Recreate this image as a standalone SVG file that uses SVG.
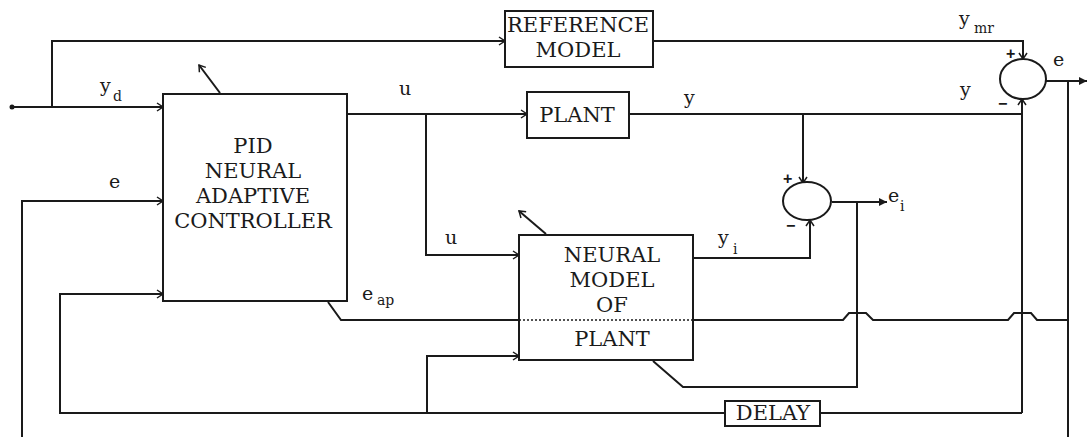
<svg xmlns="http://www.w3.org/2000/svg" width="1087" height="437" viewBox="0 0 1087 437">
<style>
.ln{fill:none;stroke:#1a1a1a;stroke-width:2}
.bx{fill:#fff;stroke:#1a1a1a;stroke-width:2}
.t{font-family:"DejaVu Serif","Liberation Serif",serif;font-size:21px;fill:#1a1a1a;text-anchor:middle}
.l{font-family:"DejaVu Serif","Liberation Serif",serif;font-size:19px;fill:#1a1a1a}
.s{font-family:"DejaVu Serif","Liberation Serif",serif;font-size:14px;fill:#1a1a1a}
.pm{font-family:"Liberation Sans",Arial,sans-serif;font-size:16px;fill:#1a1a1a;font-weight:bold}
</style>
<defs>
<marker id="oa" markerWidth="10" markerHeight="10" refX="8" refY="5" orient="auto" markerUnits="userSpaceOnUse">
<path d="M2,1 L8,5 L2,9" fill="none" stroke="#1a1a1a" stroke-width="1.5"/>
</marker>
<marker id="fa" markerWidth="10" markerHeight="10" refX="9" refY="5" orient="auto" markerUnits="userSpaceOnUse">
<path d="M1,1 L9,5 L1,9 Z" fill="#1a1a1a"/>
</marker>
</defs>
<g id="connectors">
<circle cx="12" cy="107" r="2.5" fill="#1a1a1a"/>
<path class="ln" d="M12,107 H163" marker-end="url(#oa)"/>
<path class="ln" d="M52,107 V41 H505" marker-end="url(#oa)"/>
<path class="ln" d="M653,41 H1023 V59" marker-end="url(#oa)"/>
<path class="ln" d="M1046,81 H1087" marker-end="url(#fa)"/>
<path class="ln" d="M1068,81 V437"/>
<path class="ln" d="M347,114 H527" marker-end="url(#oa)"/>
<path class="ln" d="M426,114 V255 H519" marker-end="url(#oa)"/>
<path class="ln" d="M629,114 H1022"/>
<path class="ln" d="M803,114 V183" marker-end="url(#oa)"/>
<path class="ln" d="M832,202 H887" marker-end="url(#fa)"/>
<path class="ln" d="M693,258 H810 V220" marker-end="url(#oa)"/>
<path class="ln" d="M653,361 L683,387 H857 V202"/>
<path class="ln" d="M22,437 V201 H163" marker-end="url(#oa)"/>
<path class="ln" d="M328,302 L341,320 H519"/>
<path class="ln" d="M693,320 H843 L849,313 H866 L873,320 H1008 L1014,313 H1031 L1037,320 H1068"/>
<path class="ln" d="M1022,413 V99" marker-end="url(#oa)"/>
<path class="ln" d="M820,413 H1022"/>
<path class="ln" d="M725,413 H60 V294 H163" marker-end="url(#oa)"/>
<path class="ln" d="M427,413 V356 H519" marker-end="url(#oa)"/>
<path class="ln" d="M220,93 L199,65" stroke-width="1.5" marker-end="url(#oa)"/>
<path class="ln" d="M546,234 L519,211" stroke-width="1.5" marker-end="url(#oa)"/>
</g>
<g id="pid">
<rect class="bx" x="163" y="94" width="184" height="207"/>
<text class="t" x="253" y="153">PID</text>
<text class="t" x="253" y="178">NEURAL</text>
<text class="t" x="253" y="203">ADAPTIVE</text>
<text class="t" x="253" y="228">CONTROLLER</text>
</g>
<g id="reference-model">
<rect class="bx" x="505" y="11" width="148" height="56"/>
<text class="t" x="578" y="32">REFERENCE</text>
<text class="t" x="578" y="57">MODEL</text>
</g>
<g id="plant">
<rect class="bx" x="527" y="92" width="102" height="46"/>
<text class="t" x="577" y="122">PLANT</text>
</g>
<g id="neural-model">
<rect class="bx" x="519" y="235" width="174" height="125"/>
<path d="M519,320 H693" fill="none" stroke="#1a1a1a" stroke-width="1.5" stroke-dasharray="2,2"/>
<text class="t" x="612" y="262">NEURAL</text>
<text class="t" x="612" y="287">MODEL</text>
<text class="t" x="612" y="312">OF</text>
<text class="t" x="612" y="346">PLANT</text>
</g>
<g id="delay">
<rect class="bx" x="725" y="401" width="95" height="25"/>
<text class="t" x="773" y="420">DELAY</text>
</g>
<g id="sum-e">
<ellipse class="bx" cx="1023" cy="79" rx="23" ry="20"/>
<text class="pm" x="1006" y="59">+</text>
<text class="pm" x="998" y="109">−</text>
</g>
<g id="sum-ei">
<ellipse class="bx" cx="807" cy="201" rx="24" ry="19"/>
<text class="pm" x="783" y="184">+</text>
<text class="pm" x="786" y="231">−</text>
</g>
<g id="labels">
<text class="l" x="100" y="92">y</text><text class="s" x="113" y="101">d</text>
<text class="l" x="109" y="188">e</text>
<text class="l" x="399" y="95">u</text>
<text class="l" x="445" y="244">u</text>
<text class="l" x="684" y="104">y</text>
<text class="l" x="960" y="96">y</text>
<text class="l" x="959" y="25">y</text><text class="s" x="974" y="33">mr</text>
<text class="l" x="1053" y="66">e</text>
<text class="l" x="362" y="300">e</text><text class="s" x="377" y="305">ap</text>
<text class="l" x="718" y="244">y</text><text class="s" x="733" y="254">i</text>
<text class="l" x="888" y="202">e</text><text class="s" x="900" y="211">i</text>
</g>
</svg>
